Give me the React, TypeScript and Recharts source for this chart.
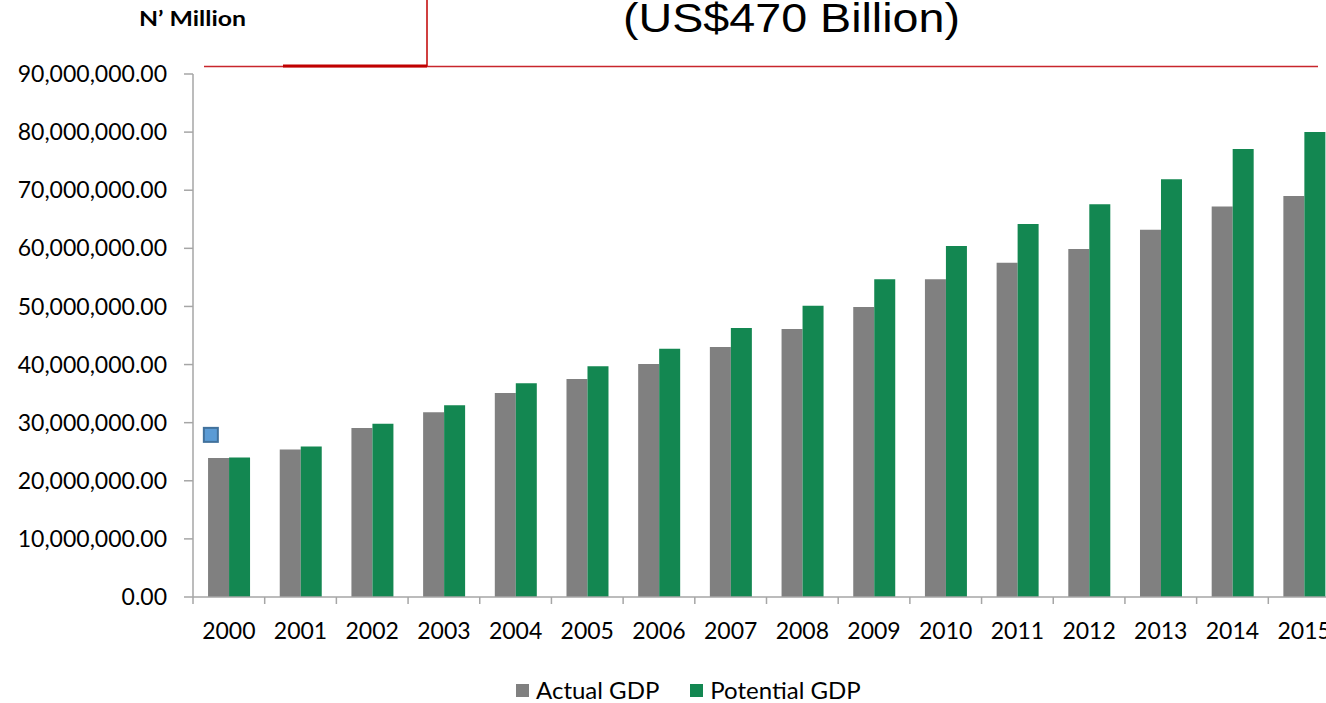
import { Bar, BarChart, Legend, ReferenceDot, XAxis, YAxis } from "recharts"

const years = ["2000", "2001", "2002", "2003", "2004", "2005", "2006", "2007", "2008", "2009", "2010", "2011", "2012", "2013", "2014", "2015"]
const actualGdp = [23900000, 25400000, 29100000, 31800000, 35100000, 37500000, 40100000, 43000000, 46100000, 49900000, 54700000, 57500000, 59900000, 63200000, 67200000, 69000000]
const potentialGdp = [24000000, 25900000, 29800000, 33000000, 36800000, 39700000, 42700000, 46300000, 50100000, 54700000, 60400000, 64200000, 67600000, 71900000, 77100000, 80000000]
const yTicks = [0, 10000000, 20000000, 30000000, 40000000, 50000000, 60000000, 70000000, 80000000, 90000000]
const markerYear = "2000"
const markerValue = 27900000

const data = years.map((year, i) => ({
  year,
  actual: actualGdp[i],
  potential: potentialGdp[i],
}))

const CHART_W = 1345
const CHART_H = 703
const Y_AXIS_W = 193
const MARGIN = { top: 74, right: 5, left: 0, bottom: 20 }
const BAND = (CHART_W - Y_AXIS_W - MARGIN.right - MARGIN.left) / years.length
const AXIS_GREY = "#a6a6a6"
const FONT = "Lato, 'Open Sans', sans-serif"

const fmt = (v: number) =>
  v.toLocaleString("en-US", { minimumFractionDigits: 2, maximumFractionDigits: 2 })

function YearTick(props: any) {
  const { x, y, payload, index } = props
  const last = index === years.length - 1
  return (
    <g>
      <line x1={x - BAND / 2} x2={x - BAND / 2} y1={y} y2={y + 7} stroke={AXIS_GREY} strokeWidth={1.5} />
      {last && <line x1={x + BAND / 2} x2={x + BAND / 2} y1={y} y2={y + 7} stroke={AXIS_GREY} strokeWidth={1.5} />}
      <text x={x} y={y + 42} textAnchor="middle" fill="#000" fontSize={23} fontFamily={FONT}>
        {payload.value}
      </text>
    </g>
  )
}

function LegendBox() {
  const items = [
    { label: "Actual GDP", color: "#808080" },
    { label: "Potential GDP", color: "#138751" },
  ]
  return (
    <div style={{ display: "flex", alignItems: "center", height: 26, lineHeight: "26px", fontFamily: FONT, fontSize: 24, color: "#000", whiteSpace: "nowrap" }}>
      {items.map((it, i) => (
        <div key={it.label} style={{ display: "flex", alignItems: "center", marginRight: i === 0 ? 31 : 0 }}>
          <span style={{ width: 13, height: 13, background: it.color, display: "inline-block", marginRight: 7 }} />
          <span>{it.label}</span>
        </div>
      ))}
    </div>
  )
}

function MarkerSquare(props: any) {
  const { cx, cy } = props
  return <rect x={cx - 18 - 7} y={cy - 7} width={14} height={14} fill="#5b9bd5" stroke="#41719c" strokeWidth={2} />
}

export default function App() {
  return (
    <div style={{ position: "fixed", left: 0, top: 0, width: 1326, height: 703, overflow: "hidden", background: "#fff" }}>
      <BarChart width={CHART_W} height={CHART_H} data={data} margin={MARGIN} barCategoryGap="21%" barGap={0}>
        <XAxis
          dataKey="year"
          axisLine={{ stroke: AXIS_GREY, strokeWidth: 1.5 }}
          tickLine={false}
          tickSize={0}
          tickMargin={0}
          height={60}
          interval={0}
          tick={<YearTick />}
        />
        <YAxis
          width={Y_AXIS_W}
          domain={[0, 90000000]}
          ticks={yTicks}
          tickFormatter={fmt}
          axisLine={{ stroke: AXIS_GREY, strokeWidth: 1.5 }}
          tickLine={{ stroke: AXIS_GREY, strokeWidth: 1.5 }}
          tickSize={9}
          tickMargin={17}
          tick={{ fill: "#000", fontSize: 23, fontFamily: FONT }}
        />
        <Legend
          verticalAlign="bottom"
          content={<LegendBox />}
          wrapperStyle={{ left: 516, top: 677, width: 420, height: 26 }}
        />
        <Bar dataKey="actual" name="Actual GDP" fill="#808080" isAnimationActive={false} />
        <Bar dataKey="potential" name="Potential GDP" fill="#138751" isAnimationActive={false} />
        <ReferenceDot x={markerYear} y={markerValue} shape={<MarkerSquare />} />
      </BarChart>
      <svg width={1326} height={80} style={{ position: "absolute", left: 0, top: 0 }}>
        <line x1={204} x2={1318} y1={66.5} y2={66.5} stroke="#c8262c" strokeWidth={1.5} />
        <line x1={283} x2={427} y1={66} y2={66} stroke="#c00000" strokeWidth={3} />
        <line x1={427} x2={427} y1={0} y2={66} stroke="#c00000" strokeWidth={1.5} />
        <text x={139} y={26} fontSize={20} fontWeight="bold" fontFamily={FONT} textLength={107} lengthAdjust="spacingAndGlyphs">
          N’ Million
        </text>
        <text x={623} y={32} fontSize={40} fontFamily="'Liberation Sans', Arial, sans-serif" textLength={337} lengthAdjust="spacingAndGlyphs">
          (US$470 Billion)
        </text>
      </svg>
    </div>
  )
}
